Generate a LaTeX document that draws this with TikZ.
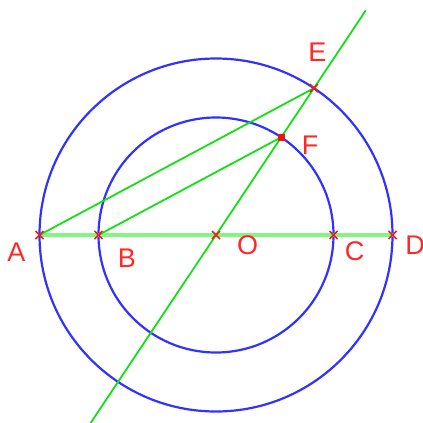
\documentclass[tikz,border=0pt]{standalone}
\usepackage{fontspec}
\setmainfont{Liberation Sans}
\usetikzlibrary{calc}
\begin{document}
\begin{tikzpicture}[x=1pt,y=-1pt,
  circ/.style={draw={rgb,255:red,50;green,50;blue,255}, line width=2.2pt},
  gline/.style={draw={rgb,255:red,20;green,225;blue,20}, line width=1.8pt},
  hline/.style={draw={rgb,255:red,130;green,245;blue,130}, line width=3.5pt},
  lbl/.style={text={rgb,255:red,255;green,40;blue,40}, font=\fontsize{27}{27}\selectfont, inner sep=0pt},
  xmark/.style={draw={rgb,255:red,235;green,30;blue,30}, line width=1.6pt},
  sqmark/.style={fill={rgb,255:red,235;green,20;blue,20}}
]
\useasboundingbox (0,0) rectangle (423,423);
\coordinate (O) at (216,235);
\coordinate (A) at ($(O)+(-176.5,0)$);
\coordinate (B) at ($(O)+(-117.5,0)$);
\coordinate (C) at ($(O)+(117.5,0)$);
\coordinate (D) at ($(O)+(176.5,0)$);
\coordinate (E) at ($(O)+(0.5548*176.5,-0.832*176.5)$);
\coordinate (F) at ($(O)+(0.5548*117.5,-0.832*117.5)$);
\coordinate (T) at ($(O)+(0.5548*270,-0.832*270)$);
\coordinate (U) at ($(O)+(-0.5548*235,0.832*235)$);
\draw[circ] (O) circle (176.5);
\draw[circ] (O) circle (117.5);
\draw[hline] (A) -- (D);
\draw[gline] (U) -- (T);
\draw[gline] (A) -- (E);
\draw[gline] (B) -- (F);
\foreach \p in {A,B,O,C,D,E}{
  \draw[xmark] ($(\p)+(-4,-4)$) -- ($(\p)+(4,4)$) ($(\p)+(-4,4)$) -- ($(\p)+(4,-4)$);
}
\fill[sqmark] ($(F)+(-3.5,-3.5)$) rectangle ($(F)+(3.5,3.5)$);
\node[lbl] (lA) at (16.5,252) {A};
\node[lbl] (lB) at (127,258) {B};
\node[lbl] (lO) at (247.5,245) {O};
\node[lbl] (lC) at (354.5,251.5) {C};
\node[lbl] (lD) at (415,245) {D};
\node[lbl] (lE) at (317.5,52.5) {E};
\node[lbl] (lF) at (310,145) {F};
\end{tikzpicture}
\end{document}
